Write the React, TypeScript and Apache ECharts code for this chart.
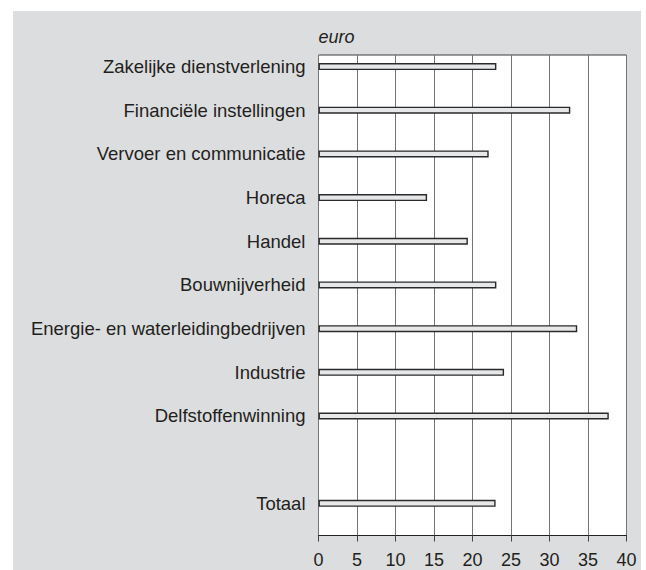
import React, { useEffect, useRef } from "react";
import * as echarts from "echarts";

const categories = [
  "Zakelijke dienstverlening",
  "Financiële instellingen",
  "Vervoer en communicatie",
  "Horeca",
  "Handel",
  "Bouwnijverheid",
  "Energie- en waterleidingbedrijven",
  "Industrie",
  "Delfstoffenwinning",
  "",
  "Totaal",
];

const values: (number | null)[] = [23.1, 32.7, 22.1, 14.1, 19.4, 23.1, 33.6, 24.1, 37.7, null, 23.0];

const xMin = 0;
const xMax = 40;
const xInterval = 5;
const unitLabel = "euro";

const FONT = "'Liberation Sans', Arial, Helvetica, sans-serif";
const TEXT = "#231f20";

export default function App() {
  const ref = useRef<HTMLDivElement>(null);

  useEffect(() => {
    if (!ref.current) return;
    const chart = echarts.init(ref.current, undefined, { renderer: "svg" });
    const plotLeft = 318.5;
    const plotWidth = 308;
    chart.setOption({
      animation: false,
      backgroundColor: "#ffffff",
      textStyle: { fontFamily: FONT },
      graphic: [
        {
          type: "rect",
          z: -100,
          silent: true,
          shape: { x: 13, y: 11, width: 628, height: 559 },
          style: { fill: "#dcdddf" },
        },
        {
          type: "text",
          x: plotLeft,
          y: 37,
          style: {
            text: unitLabel,
            font: `italic 18px ${FONT}`,
            fill: TEXT,
            textVerticalAlign: "middle",
            textAlign: "left",
          },
        },
      ],
      grid: [
        {
          left: plotLeft,
          top: 55,
          width: plotWidth,
          height: 480.5,
          show: true,
          backgroundColor: "#ffffff",
          borderColor: "#3a3a3a",
          borderWidth: 1,
        },
        {
          left: plotLeft,
          top: 44.7,
          width: plotWidth,
          height: 480.5,
        },
      ],
      xAxis: [
        {
          type: "value",
          gridIndex: 0,
          min: xMin,
          max: xMax,
          interval: xInterval,
          axisLine: { show: true, lineStyle: { color: "#222", width: 1.2 } },
          axisTick: { show: true, length: 6, lineStyle: { color: "#444", width: 1 } },
          axisLabel: { fontSize: 18, color: TEXT, margin: 15, fontFamily: FONT },
          splitLine: { show: true, lineStyle: { color: "#747474", width: 1 } },
        },
        {
          type: "value",
          gridIndex: 1,
          min: xMin,
          max: xMax,
          show: false,
          splitLine: { show: false },
        },
      ],
      yAxis: [
        {
          type: "category",
          gridIndex: 0,
          data: categories,
          show: false,
        },
        {
          type: "category",
          gridIndex: 1,
          data: categories,
          inverse: true,
          axisLine: { show: false },
          axisTick: { show: false },
          splitLine: { show: false },
          axisLabel: { fontSize: 18.5, color: TEXT, margin: 13, fontFamily: FONT },
        },
      ],
      series: [
        {
          type: "bar",
          xAxisIndex: 1,
          yAxisIndex: 1,
          data: values,
          barWidth: 7,
          itemStyle: {
            color: "#e6e7e8",
            borderColor: "#2a2a2a",
            borderWidth: 1.4,
          },
        },
      ],
    });
    return () => chart.dispose();
  }, []);

  return (
    <div
      ref={ref}
      style={{ position: "fixed", left: 0, top: 0, width: 646, height: 570 }}
    />
  );
}
